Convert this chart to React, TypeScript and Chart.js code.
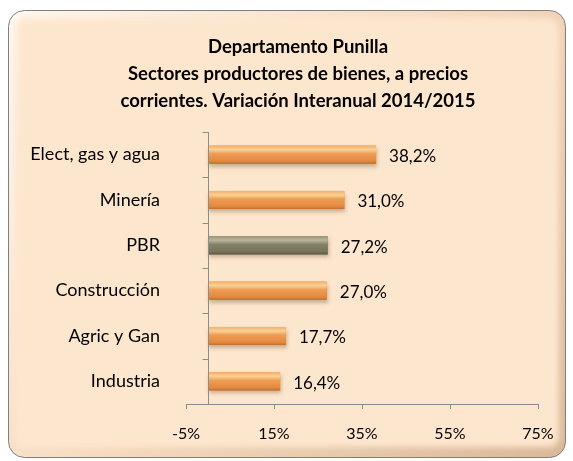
import React, { useEffect, useRef } from "react";
import { Chart, registerables } from "chart.js";

Chart.register(...registerables);

const titleLines = [
  "Departamento Punilla",
  "Sectores productores de bienes, a precios",
  "corrientes. Variación Interanual 2014/2015",
];
const categories = ["Elect, gas y agua", "Minería", "PBR", "Construcción", "Agric y Gan", "Industria"];
const values = [38.2, 31.0, 27.2, 27.0, 17.7, 16.4];
const highlighted = ["PBR"];
const xMin = -5;
const xMax = 75;
const xStep = 20;

const FONT = "Lato, 'Noto Sans', sans-serif";

function roundRect(ctx: CanvasRenderingContext2D, x: number, y: number, w: number, h: number, r: number) {
  ctx.beginPath();
  ctx.moveTo(x + r, y);
  ctx.arcTo(x + w, y, x + w, y + h, r);
  ctx.arcTo(x + w, y + h, x, y + h, r);
  ctx.arcTo(x, y + h, x, y, r);
  ctx.arcTo(x, y, x + w, y, r);
  ctx.closePath();
}

const framePlugin = {
  id: "frame",
  beforeDraw(chart: any) {
    const ctx = chart.ctx as CanvasRenderingContext2D;
    ctx.save();
    roundRect(ctx, 8.5, 10.5, 557, 447, 16);
    const g = ctx.createLinearGradient(8, 10, 565, 457);
    g.addColorStop(0, "#FFF8F0");
    g.addColorStop(0.5, "#F6DABF");
    g.addColorStop(1, "#D8B898");
    ctx.fillStyle = g;
    ctx.fill();
    ctx.strokeStyle = "#7f7f7f";
    ctx.lineWidth = 1;
    ctx.stroke();
    ctx.save();
    roundRect(ctx, 8.5, 10.5, 557, 447, 16);
    ctx.clip();
    (ctx as any).filter = "blur(3px)";
    roundRect(ctx, 16, 18, 543, 429, 10);
    ctx.fillStyle = "#FDE6CE";
    ctx.fill();
    ctx.restore();
    ctx.restore();
  },
  afterDraw(chart: any) {
    const ctx = chart.ctx as CanvasRenderingContext2D;
    ctx.save();
    ctx.font = `bold 18.5px ${FONT}`;
    ctx.fillStyle = "#000";
    ctx.textAlign = "center";
    ctx.textBaseline = "middle";
    const cx = (chart.width + 23) / 2;
    titleLines.forEach((line, i) => {
      ctx.fillText(line, cx, 47 + i * 27);
    });
    ctx.restore();
  },
};

const barStylePlugin = {
  id: "barStyle",
  afterDatasetsDraw(chart: any) {
    const ctx = chart.ctx as CanvasRenderingContext2D;
    const meta = chart.getDatasetMeta(0);
    meta.data.forEach((bar: any, i: number) => {
      const { x, y, base, height } = bar.getProps(["x", "y", "base", "height"], true);
      const top = y - height / 2;
      const left = Math.min(x, base);
      const w = Math.abs(x - base);
      const grey = highlighted.includes(categories[i]);
      const g = ctx.createLinearGradient(0, top, 0, top + height);
      if (grey) {
        g.addColorStop(0, "#9A957C");
        g.addColorStop(0.22, "#B9B59D");
        g.addColorStop(0.45, "#858167");
        g.addColorStop(0.85, "#77735B");
        g.addColorStop(1, "#5E5A47");
      } else {
        g.addColorStop(0, "#F3AE68");
        g.addColorStop(0.22, "#FAD195");
        g.addColorStop(0.45, "#EE9D55");
        g.addColorStop(0.85, "#E4893F");
        g.addColorStop(1, "#BE7034");
      }
      ctx.save();
      ctx.shadowColor = "rgba(110,70,30,0.35)";
      ctx.shadowBlur = 4;
      ctx.shadowOffsetX = 1;
      ctx.shadowOffsetY = 3;
      ctx.fillStyle = g;
      ctx.fillRect(left, top, w, height);
      ctx.restore();

      // value label
      ctx.save();
      ctx.font = `17px ${FONT}`;
      ctx.fillStyle = "#000";
      ctx.textAlign = "left";
      ctx.textBaseline = "middle";
      const txt = values[i].toFixed(1).replace(".", ",") + "%";
      ctx.fillText(txt, x + 13, y + 2);
      ctx.restore();
    });

    // vertical axis line at x = 0
    const xs = chart.scales.x;
    const ys = chart.scales.y;
    const x0 = Math.round(xs.getPixelForValue(0)) + 0.5;
    ctx.save();
    ctx.strokeStyle = "#8c8c8c";
    ctx.lineWidth = 1;
    ctx.beginPath();
    ctx.moveTo(x0, ys.top);
    ctx.lineTo(x0, ys.bottom);
    const n = categories.length;
    const step = (ys.bottom - ys.top) / n;
    for (let k = 0; k < n; k++) {
      const yy = Math.round(ys.top + k * step) + 0.5;
      ctx.moveTo(x0 - 6, yy);
      ctx.lineTo(x0, yy);
    }
    ctx.stroke();
    ctx.restore();
  },
};

export default function App() {
  const ref = useRef<HTMLCanvasElement>(null);
  useEffect(() => {
    if (!ref.current) return;
    const chart = new Chart(ref.current, {
      type: "bar",
      data: {
        labels: categories,
        datasets: [
          {
            data: values,
            backgroundColor: categories.map((c) => (highlighted.includes(c) ? "#858167" : "#EE9D55")),
            borderWidth: 0,
            categoryPercentage: 1,
            barPercentage: 0.4,
          },
        ],
      },
      options: {
        indexAxis: "y",
        responsive: false,
        animation: false,
        layout: { padding: { left: 20, right: 35, top: 132, bottom: 0 } },
        plugins: {
          legend: { display: false },
          tooltip: { enabled: false },
          title: { display: false },
        },
        scales: {
          x: {
            min: xMin,
            max: xMax,
            ticks: {
              stepSize: xStep,
              color: "#000",
              font: { family: FONT, size: 16 },
              padding: 15,
              callback: (v: any) => `${v}%`,
            },
            grid: { drawOnChartArea: false, drawTicks: true, tickLength: 5, color: "#8c8c8c" },
            border: { display: true, color: "#8c8c8c" },
            afterFit: (s: any) => {
              s.height = 57;
            },
          },
          y: {
            ticks: {
              color: "#000",
              font: { family: FONT, size: 18 },
              padding: 26,
            },
            grid: { display: false, drawTicks: false },
            border: { display: false },
            afterFit: (s: any) => {
              s.width = 166;
            },
          },
        },
      },
      plugins: [framePlugin, barStylePlugin],
    });
    return () => chart.destroy();
  }, []);
  return (
    <div style={{ position: "absolute", left: 0, top: 0, width: 573, height: 461 }}>
      <canvas ref={ref} width={573} height={461} style={{ display: "block" }} />
    </div>
  );
}
